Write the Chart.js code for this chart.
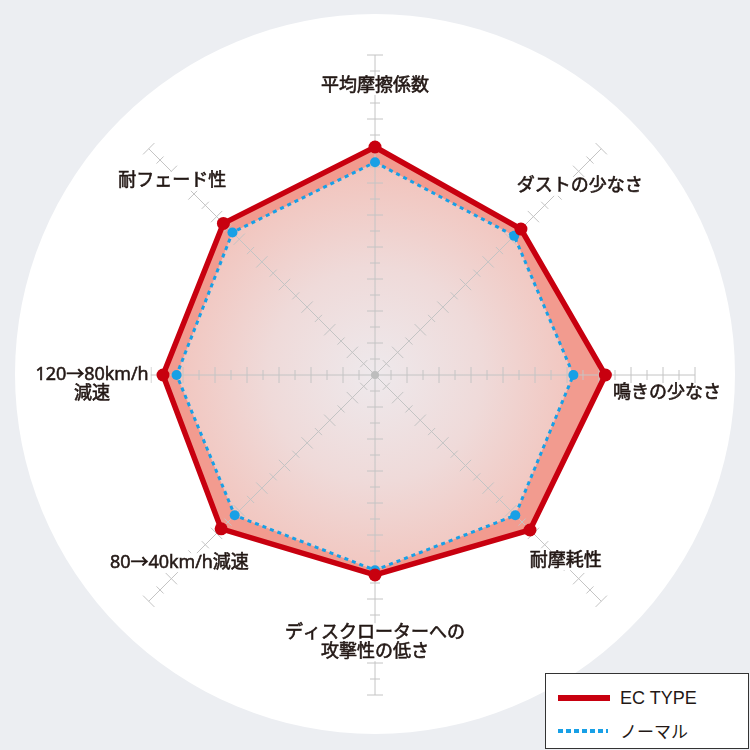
<!DOCTYPE html>
<html>
<head>
<meta charset="utf-8">
<script src="https://cdn.jsdelivr.net/npm/chart.js@4.4.0/dist/chart.umd.min.js"></script>
<style>
html, body { margin: 0; padding: 0; background: #eceef2; }
#wrap { position: relative; width: 750px; height: 750px; }
canvas { display: block; }
.legend {
    position: absolute; left: 545px; top: 673px; width: 204px; height: 76px;
    background: #fff; border: 1px solid #333; box-sizing: border-box;
    font-family: "Liberation Sans", "Noto Sans CJK JP", sans-serif; color: #231815;
}
.legend .row { position: absolute; left: 0; right: 0; height: 24px; }
.legend .swatch { position: absolute; left: 12px; width: 52px; }
.legend .txt { position: absolute; left: 74px; top: 0; line-height: 24px; font-size: 18px; }
.red { top: 9px; height: 6px; background: #c8000f; }
.blue { top: 10px; height: 4px; width: 50px !important;
    background: repeating-linear-gradient(90deg, #18a0e6 0 5px, transparent 5px 8px); }
</style>
</head>
<body>
<div id="wrap">
    <canvas id="radarChart" width="750" height="750"></canvas>
    <div class="legend">
        <div class="row" style="top:12px"><div class="swatch red"></div><div class="txt">EC TYPE</div></div>
        <div class="row" style="top:45px"><div class="swatch blue"></div><div class="txt" style="font-family:'Noto Sans CJK JP';font-size:17px">ノーマル</div></div>
    </div>
</div>
<script>
// axes, clockwise from top
const categories = [
    ['平均摩擦係数'],
    ['ダストの少なさ'],
    ['鳴きの少なさ'],
    ['耐摩耗性'],
    ['ディスクローターへの', '攻撃性の低さ'],
    ['80→40km/h減速'],
    ['120→80km/h', '減速'],
    ['耐フェード性']
];
const ecType = [14.25, 12.9, 14.4, 13.7, 12.5, 13.6, 13.25, 13.4];
const normal = [13.3, 12.3, 12.4, 12.4, 12.2, 12.4, 12.4, 12.6];
const scaleMax = 20;

// where each axis label sits: distance along axis (in scale units) + pixel nudge
const labelDist = [18.1, 18, 18, 18, 16.7, 18, 18, 18];
const labelShift = [[0, 0], [1, 15], [4, 18], [-13, -18], [0, 0], [8, -16], [5, 9], [1, 10]];

const axisColor = '#c4c4c4';

const radarDeco = {
    id: 'radarDeco',
    beforeDraw(chart) {
        const s = chart.scales.r;
        const c = chart.ctx;
        c.save();
        c.fillStyle = '#fff';
        c.beginPath();
        c.arc(s.xCenter, s.yCenter - 1, 360, 0, Math.PI * 2);
        c.fill();
        c.restore();
    },
    // axes + tick crosses go over the fills but under the two outlines
    beforeDatasetDraw(chart, args) {
        if (args.index !== 1) return;
        const s = chart.scales.r;
        const c = chart.ctx;
        c.save();
        c.strokeStyle = axisColor;
        c.lineWidth = 1;
        for (let i = 0; i < categories.length; i++) {
            const end = s.getPointPosition(i, s.getDistanceFromCenterForValue(scaleMax));
            c.beginPath();
            c.moveTo(s.xCenter, s.yCenter);
            c.lineTo(end.x, end.y);
            c.stroke();
            for (let v = 1; v <= scaleMax; v++) {
                const p = s.getPointPosition(i, s.getDistanceFromCenterForValue(v));
                const half = v % 2 === 0 ? 8 : 5;
                const px = Math.cos(p.angle + Math.PI / 2) * half;
                const py = Math.sin(p.angle + Math.PI / 2) * half;
                c.beginPath();
                c.moveTo(p.x - px, p.y - py);
                c.lineTo(p.x + px, p.y + py);
                c.stroke();
            }
        }
        c.fillStyle = '#bdbdbd';
        c.beginPath();
        c.arc(s.xCenter, s.yCenter, 4, 0, Math.PI * 2);
        c.fill();
        c.restore();
    },
    afterDatasetsDraw(chart) {
        const s = chart.scales.r;
        const c = chart.ctx;
        const lineH = 19;
        c.save();
        c.font = '18px "Open Sans", "Noto Sans CJK JP"';
        c.textAlign = 'center';
        c.textBaseline = 'middle';
        c.lineWidth = 0.6;
        c.strokeStyle = '#231815';
        categories.forEach((lines, i) => {
            const p = s.getPointPosition(i, s.getDistanceFromCenterForValue(labelDist[i]));
            const cx = p.x + labelShift[i][0];
            const cy = p.y + labelShift[i][1];
            const top = cy - lines.length * lineH / 2;
            lines.forEach((t, k) => {
                const y = top + lineH * k + lineH / 2;
                const w = c.measureText(t).width;
                c.fillStyle = '#fff';
                c.fillRect(cx - w / 2 - 2, y - lineH / 2, w + 4, lineH);
                c.fillStyle = '#231815';
                c.fillText(t, cx, y);
                c.strokeText(t, cx, y);
            });
        });
        c.restore();
    }
};

const normalFill = (context) => {
    const chart = context.chart;
    const s = chart.scales.r;
    if (!chart.chartArea || !s) return '#f0d4d0';
    const g = chart.ctx.createRadialGradient(s.xCenter, s.yCenter, 0, s.xCenter, s.yCenter, 215);
    g.addColorStop(0, '#eee9ec');
    g.addColorStop(0.5, '#efdad9');
    g.addColorStop(1, '#f2c2ba');
    return g;
};

const ctxRadar = document.getElementById('radarChart').getContext('2d');
new Chart(ctxRadar, {
    type: 'radar',
    data: {
        labels: categories,
        datasets: [{
            label: 'EC TYPE',
            data: ecType,
            fill: false,
            borderColor: '#c8000f',
            borderWidth: 5.5,
            pointRadius: 6.5,
            pointBackgroundColor: '#c8000f',
            pointBorderWidth: 0,
            order: 1
        }, {
            label: 'ノーマル',
            data: normal,
            fill: false,
            borderColor: '#18a0e6',
            borderWidth: 3,
            borderDash: [4, 4],
            pointRadius: 5,
            pointBackgroundColor: '#18a0e6',
            pointBorderWidth: 0,
            order: 2
        }, {
            label: 'ノーマル fill',
            data: normal,
            fill: true,
            backgroundColor: normalFill,
            borderWidth: 0,
            pointRadius: 0,
            order: 3
        }, {
            label: 'EC TYPE fill',
            data: ecType,
            fill: true,
            backgroundColor: '#f29b8f',
            borderWidth: 0,
            pointRadius: 0,
            order: 4
        }]
    },
    options: {
        responsive: false,
        animation: false,
        devicePixelRatio: 1,
        layout: { padding: 55 },
        scales: {
            r: {
                min: 0,
                max: scaleMax,
                ticks: { display: false, stepSize: 1 },
                grid: { display: false },
                angleLines: { display: false },
                pointLabels: { display: false }
            }
        },
        plugins: {
            legend: { display: false },
            tooltip: { enabled: false }
        }
    },
    plugins: [radarDeco]
});
</script>
</body>
</html>
